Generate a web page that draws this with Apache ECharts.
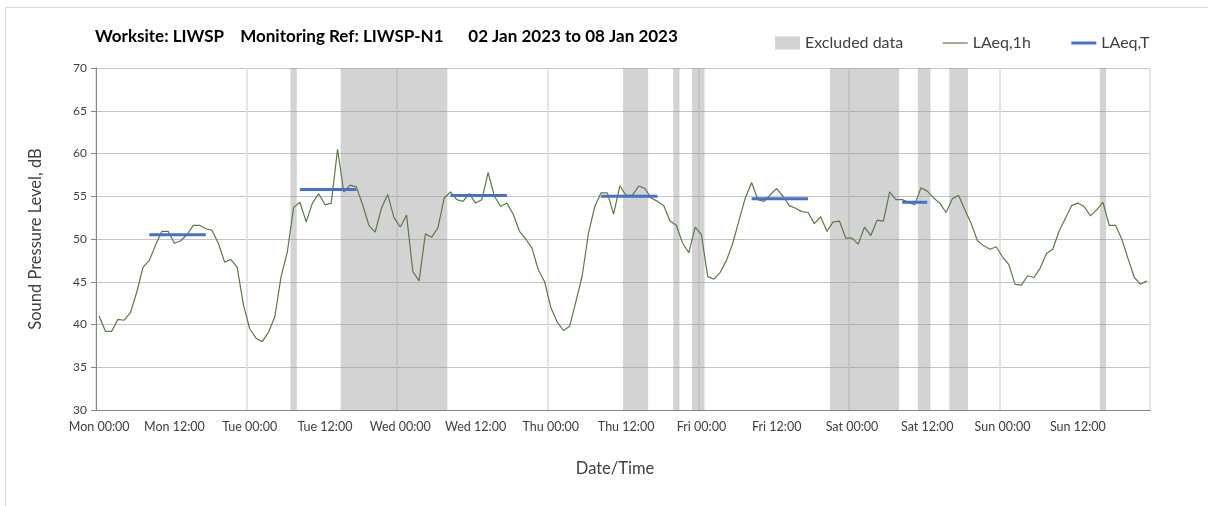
<!DOCTYPE html>
<html>
<head>
<meta charset="utf-8">
<script src="https://cdn.jsdelivr.net/npm/echarts@6/dist/echarts.min.js"></script>
<style>
  html, body { margin: 0; padding: 0; background: #ffffff; }
  #frame {
    position: absolute; left: 5px; top: 7px;
    width: 1230px; height: 530px;
    border: 1px solid #d9d9d9;
  }
  #chart { position: absolute; left: 0; top: 0; width: 1208px; height: 506px; }
</style>
</head>
<body>
<div id="frame"></div>
<div id="chart"></div>
<script>
// week of hourly levels, Mon 00:00 .. Sun 23:00
const days = ['Mon', 'Tue', 'Wed', 'Thu', 'Fri', 'Sat', 'Sun']

const laeq1h = [
  41.0, 39.2, 39.2, 40.6, 40.5, 41.4, 43.8, 46.7, 47.5, 49.3, 50.9, 50.9, 49.5, 49.8, 50.5, 51.6, 51.6, 51.2, 51.0, 49.5, 47.3, 47.6, 46.7, 42.3,
  39.5, 38.4, 38.0, 39.1, 40.9, 45.6, 48.5, 53.7, 54.3, 52.0, 54.2, 55.3, 54.0, 54.2, 60.5, 55.5, 56.3, 56.1, 54.0, 51.6, 50.8, 53.6, 55.2, 52.5,
  51.4, 52.8, 46.2, 45.1, 50.6, 50.2, 51.3, 54.8, 55.5, 54.6, 54.4, 55.3, 54.2, 54.6, 57.8, 55.0, 53.8, 54.2, 52.9, 50.9, 50.0, 48.9, 46.4, 45.0,
  42.0, 40.3, 39.3, 39.8, 42.7, 45.7, 50.7, 53.8, 55.4, 55.4, 52.9, 56.2, 55.1, 55.1, 56.2, 55.9, 54.8, 54.4, 53.9, 52.1, 51.6, 49.5, 48.4, 51.4,
  50.5, 45.6, 45.3, 46.1, 47.5, 49.5, 52.2, 54.8, 56.6, 54.6, 54.4, 55.2, 55.9, 55.0, 53.9, 53.6, 53.2, 53.1, 51.8, 52.6, 50.9, 52.0, 52.1, 50.1,
  50.1, 49.4, 51.4, 50.4, 52.2, 52.1, 55.5, 54.6, 54.6, 54.3, 54.0, 56.0, 55.6, 54.8, 54.2, 53.1, 54.7, 55.1, 53.4, 51.8, 49.8, 49.2, 48.8, 49.1,
  47.9, 47.0, 44.7, 44.6, 45.7, 45.5, 46.6, 48.3, 48.8, 50.9, 52.4, 53.9, 54.2, 53.8, 52.7, 53.4, 54.3, 51.6, 51.6, 50.0, 47.7, 45.5, 44.7, 45.1
]

// LAeq,T periods (hour index from Mon 00:00)
const periodStart = [8, 32, 56, 80, 104, 128]
const periodEnd = [17, 41, 65, 89, 113, 132]
const periodLevel = [50.5, 55.8, 55.1, 55.0, 54.7, 54.3]

// excluded hours, inclusive ranges
const excludedRanges = [[31, 31], [39, 55], [84, 87], [92, 92], [95, 96], [117, 127], [131, 132], [136, 138], [160, 160]]

const yTicks = { min: 30, max: 70, step: 5 }

const pad = (n) => (n < 10 ? '0' + n : '' + n)
const categories = []
days.forEach((d) => {
  for (let h = 0; h < 24; h++) categories.push(d + ' ' + pad(h) + ':00')
})

const laeqT = categories.map(() => null)
periodStart.forEach((s, k) => {
  for (let i = s; i <= periodEnd[k]; i++) laeqT[i] = periodLevel[k]
})

// one rect per excluded range, spanning whole hour bands
const renderBand = (params, api) => {
  const p0 = api.coord([api.value(0), yTicks.max])
  const p1 = api.coord([api.value(1), yTicks.min])
  const w = api.size([1, 0])[0]
  return {
    type: 'rect',
    shape: { x: p0[0] - w / 2, y: p0[1], width: p1[0] - p0[0] + w, height: p1[1] - p0[1] },
    style: api.style()
  }
}

const font = 'Lato, "Open Sans", sans-serif'
const chart = echarts.init(document.getElementById('chart'), null, { renderer: 'canvas' })

chart.setOption({
  animation: false,
  title: {
    text: 'Worksite: LIWSP\u00a0\u00a0\u00a0 Monitoring Ref: LIWSP-N1\u00a0\u00a0\u00a0\u00a0\u00a0 02 Jan 2023 to 08 Jan 2023',
    left: 95,
    top: 28,
    padding: 0,
    textStyle: { fontFamily: font, fontSize: 17, fontWeight: 'bold', color: '#000000' }
  },
  legend: {
    left: 770,
    top: 30,
    itemWidth: 25,
    itemHeight: 13,
    itemGap: 39,
    textStyle: { fontFamily: font, fontSize: 16, color: '#404040' },
    data: [
      { name: 'Excluded data', icon: 'rect' },
      { name: 'LAeq,1h', itemStyle: { opacity: 0 }, lineStyle: { width: 1.2 } },
      { name: 'LAeq,T', itemStyle: { opacity: 0 }, lineStyle: { width: 3 } }
    ]
  },
  grid: { left: 96, right: 58, top: 68, bottom: 96 },
  xAxis: {
    type: 'category',
    data: categories,
    boundaryGap: true,
    name: 'Date/Time',
    nameLocation: 'middle',
    nameGap: 50,
    nameTextStyle: { fontFamily: font, fontSize: 16.5, color: '#404040', padding: [0, 16, 0, 0] },
    axisLine: { lineStyle: { color: '#868686', width: 1 } },
    axisTick: {
      interval: (i) => i % 12 === 0,
      length: 5,
      lineStyle: { color: '#868686' }
    },
    axisLabel: {
      interval: (i) => i % 12 === 0,
      fontFamily: font,
      fontSize: 12.5,
      color: '#404040',
      margin: 10
    },
    splitLine: {
      show: true,
      interval: (i) => i % 24 === 0,
      lineStyle: { color: '#dcdcdc', width: 1.5 }
    }
  },
  yAxis: {
    type: 'value',
    min: yTicks.min,
    max: yTicks.max,
    interval: yTicks.step,
    name: 'Sound Pressure Level, dB',
    nameLocation: 'middle',
    nameGap: 52,
    nameTextStyle: { fontFamily: font, fontSize: 16.5, color: '#404040' },
    axisLine: { show: true, lineStyle: { color: '#868686', width: 1 } },
    axisTick: { show: true, length: 5, lineStyle: { color: '#868686' } },
    axisLabel: { fontFamily: font, fontSize: 12, color: '#404040', margin: 9 },
    splitLine: { lineStyle: { color: '#c4c4c4', width: 1.2 } }
  },
  series: [
    {
      name: 'Excluded data',
      type: 'custom',
      renderItem: renderBand,
      data: excludedRanges,
      encode: { x: [0, 1] },
      itemStyle: { color: 'rgba(150, 150, 150, 0.42)' },
      silent: true,
      z: 1
    },
    {
      name: 'LAeq,1h',
      type: 'line',
      data: laeq1h,
      symbol: 'none',
      color: '#5a7a45',
      lineStyle: { color: '#5a7a45', width: 1.2 },
      z: 3
    },
    {
      name: 'LAeq,T',
      type: 'line',
      data: laeqT,
      symbol: 'none',
      connectNulls: false,
      color: '#4472c4',
      lineStyle: { color: '#4472c4', width: 3 },
      z: 4
    }
  ]
})
</script>
</body>
</html>
